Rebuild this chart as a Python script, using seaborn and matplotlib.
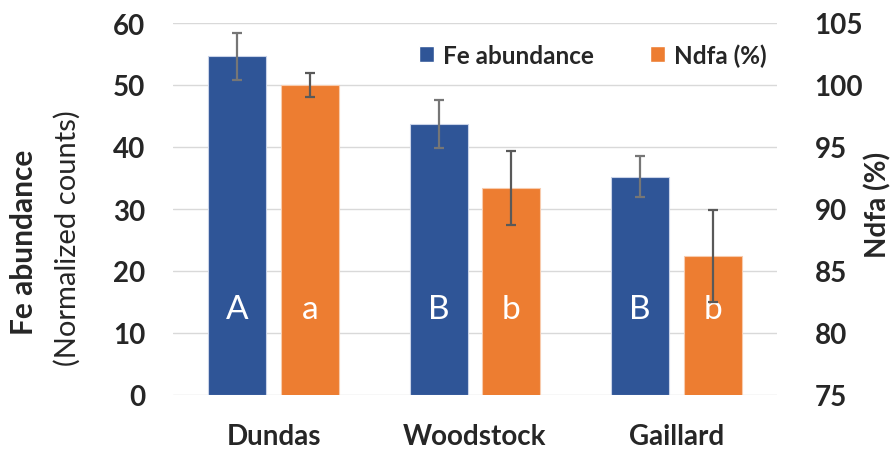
import matplotlib
matplotlib.use("Agg")
import matplotlib.pyplot as plt
from matplotlib.patches import Patch
import seaborn as sns
import pandas as pd

sites = ["Dundas", "Woodstock", "Gaillard"]
fe_mean = [54.6, 43.7, 35.2]
fe_err = [3.8, 3.85, 3.3]
ndfa_mean = [100.0, 91.7, 86.2]
ndfa_err = [0.93, 3.0, 3.7]
fe_letters = ["A", "B", "B"]
ndfa_letters = ["a", "b", "b"]
measures = ["Fe abundance", "Ndfa (%)"]

BLUE = "#2F5597"
ORANGE = "#ED7D31"
FONT = ["Lato", "DejaVu Sans"]

sns.set_theme(style="white")
plt.rcParams["font.family"] = FONT

fe_df = pd.DataFrame({"site": sites, "value": fe_mean, "measure": measures[0]})
nd_df = pd.DataFrame({"site": sites, "value": ndfa_mean, "measure": measures[1]})

fig = plt.figure(figsize=(8.94, 4.52), dpi=100)
ax = fig.add_axes([173 / 894, 1 - 396 / 452, (777 - 173) / 894, (396 - 24) / 452])
ax2 = ax.twinx()

pal = {measures[0]: BLUE, measures[1]: ORANGE}
sns.barplot(data=fe_df, x="site", y="value", hue="measure", hue_order=measures,
            palette=pal, order=sites, width=0.72, gap=0.2, dodge=True, saturation=1,
            errorbar=None, edgecolor="#C9D3E8", linewidth=0.8, legend=False, ax=ax)
sns.barplot(data=nd_df, x="site", y="value", hue="measure", hue_order=measures,
            palette=pal, order=sites, width=0.72, gap=0.2, dodge=True, saturation=1,
            errorbar=None, edgecolor="#F8CBAD", linewidth=0.8, legend=False, ax=ax2)

ax.set_ylim(0, 60)
ax2.set_ylim(75, 105)
ax.set_xlim(-0.5, 2.5)

fe_x = [p.get_x() + p.get_width() / 2 for p in ax.patches if p.get_height() > 0][:3]
nd_x = [p.get_x() + p.get_width() / 2 for p in ax2.patches if p.get_height() > 0][:3]

ax.errorbar(fe_x, fe_mean, yerr=fe_err, fmt="none", ecolor="#767676",
            elinewidth=1.6, capsize=3.5, capthick=1.6, zorder=5)
ax2.errorbar(nd_x, ndfa_mean, yerr=ndfa_err, fmt="none", ecolor="#595959",
             elinewidth=1.6, capsize=3.5, capthick=1.6, zorder=5)

for x, t in zip(fe_x, fe_letters):
    ax2.text(x, 13.9, t, color="white", fontsize=24, ha="center", va="center",
             zorder=4, transform=ax.transData)
for x, t in zip(nd_x, ndfa_letters):
    ax2.text(x, 13.9, t, color="white", fontsize=24, ha="center", va="center",
             zorder=4, transform=ax.transData)

ax.set_yticks(range(0, 61, 10))
ax2.set_yticks(range(75, 106, 5))
ax.yaxis.grid(True, color="#D9D9D9", linewidth=1)
ax.set_axisbelow(True)
ax2.grid(False)
for a in (ax, ax2):
    for s in a.spines.values():
        s.set_visible(False)
    a.tick_params(length=0)
    a.set_xlabel("")
    a.set_ylabel("")

for lab in ax.get_yticklabels() + ax2.get_yticklabels() + ax.get_xticklabels():
    lab.set_fontweight("bold")
    lab.set_fontsize(20)
ax.tick_params(axis="y", pad=20)
ax2.tick_params(axis="y", pad=27)
ax.tick_params(axis="x", pad=20)

fig.text(24 / 894, 1 - 242 / 452, "Fe abundance", rotation=90, fontsize=21.5,
         fontweight="bold", ha="center", va="center")
fig.text(67 / 894, 1 - 238 / 452, "(Normalized counts)", rotation=90, fontsize=21,
         ha="center", va="center")
fig.text(878 / 894, 1 - 205 / 452, "Ndfa (%)", rotation=90, fontsize=20,
         fontweight="bold", ha="center", va="center")

handles = [Patch(facecolor=BLUE), Patch(facecolor=ORANGE)]
fig.legend(handles, measures, loc="center left", bbox_to_anchor=(419 / 894, 1 - 56 / 452),
           ncol=2, frameon=False, handlelength=0.6, handleheight=0.6,
           handletextpad=0.4, columnspacing=2.3, borderaxespad=0, borderpad=0,
           prop={"weight": "bold", "size": 17.5})

fig.savefig("out.png", dpi=100)
